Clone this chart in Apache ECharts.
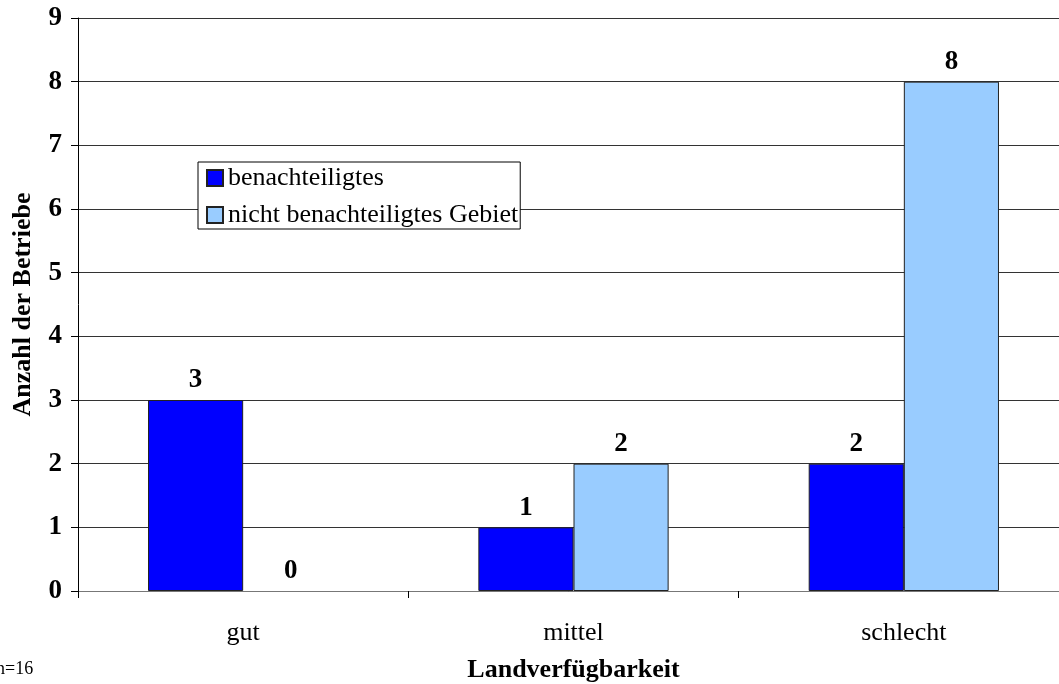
<!DOCTYPE html>
<html><head><meta charset="utf-8">
<script src="https://cdn.jsdelivr.net/npm/echarts@6/dist/echarts.min.js"></script>
<style>html,body{margin:0;padding:0;background:#fff}#c{width:1059px;height:684px}</style>
</head><body><div id="c"></div>
<script>
const categories = ['gut', 'mittel', 'schlecht'];
const seriesNames = ['benachteiligtes', 'nicht benachteiligtes Gebiet'];
const benachteiligt = [3, 1, 2];
const nichtBenachteiligt = [0, 2, 8];
const yTicks = [0, 1, 2, 3, 4, 5, 6, 7, 8, 9];

const font = '"Liberation Serif","Times New Roman",serif';
const chart = echarts.init(document.getElementById('c'));
const labelCfg = {show: true, position: 'top', distance: 6, color: '#000', fontFamily: font, fontWeight: 'bold', fontSize: 27};
const toData = arr => arr.map(v => v === 0 ? {value: v, itemStyle: {borderWidth: 0}} : v);
chart.setOption({
  animation: false,
  textStyle: {fontFamily: font},
  grid: {left: 78, right: -10, top: 18, bottom: 93, containLabel: false, outerBoundsMode: 'none'},
  legend: {
    orient: 'vertical', left: 198, top: 162,
    backgroundColor: '#fff', borderColor: '#000', borderWidth: 1,
    padding: [3, 2, 1, 8], itemGap: 11,
    itemWidth: 16, itemHeight: 16, icon: 'rect',
    textStyle: {fontFamily: font, fontSize: 26, color: '#000'},
    data: seriesNames
  },
  xAxis: {
    type: 'category', data: categories,
    axisLine: {lineStyle: {color: '#777', width: 1}},
    axisTick: {show: true, length: 7, lineStyle: {color: '#000'}},
    axisLabel: {color: '#000', fontFamily: font, fontSize: 26, margin: 29},
    name: 'Landverfügbarkeit', nameLocation: 'middle', nameGap: 66,
    nameTextStyle: {color: '#000', fontFamily: font, fontWeight: 'bold', fontSize: 26}
  },
  yAxis: {
    type: 'value', min: 0, max: 9, interval: 1,
    axisLine: {show: true, lineStyle: {color: '#000', width: 1}},
    axisTick: {show: true, length: 7, lineStyle: {color: '#000'}},
    axisLabel: {color: '#000', fontFamily: font, fontWeight: 'bold', fontSize: 27, margin: 16,
      formatter: v => yTicks.includes(v) ? String(v) : ''},
    splitLine: {lineStyle: {color: '#333', width: 1}},
    name: 'Anzahl der Betriebe', nameLocation: 'middle', nameGap: 42,
    nameTextStyle: {color: '#000', fontFamily: font, fontWeight: 'bold', fontSize: 26}
  },
  series: [
    {name: seriesNames[0], type: 'bar', data: toData(benachteiligt), barGap: '0%', barCategoryGap: '42.4%',
     itemStyle: {color: '#0000ff', borderColor: '#222', borderWidth: 1}, label: labelCfg},
    {name: seriesNames[1], type: 'bar', data: toData(nichtBenachteiligt),
     itemStyle: {color: '#99ccff', borderColor: '#222', borderWidth: 1}, label: labelCfg}
  ],
  graphic: [{type: 'text', left: -4, top: 660, style: {text: 'n=16', font: '18px ' + font, fill: '#000'}}]
});
</script></body></html>
